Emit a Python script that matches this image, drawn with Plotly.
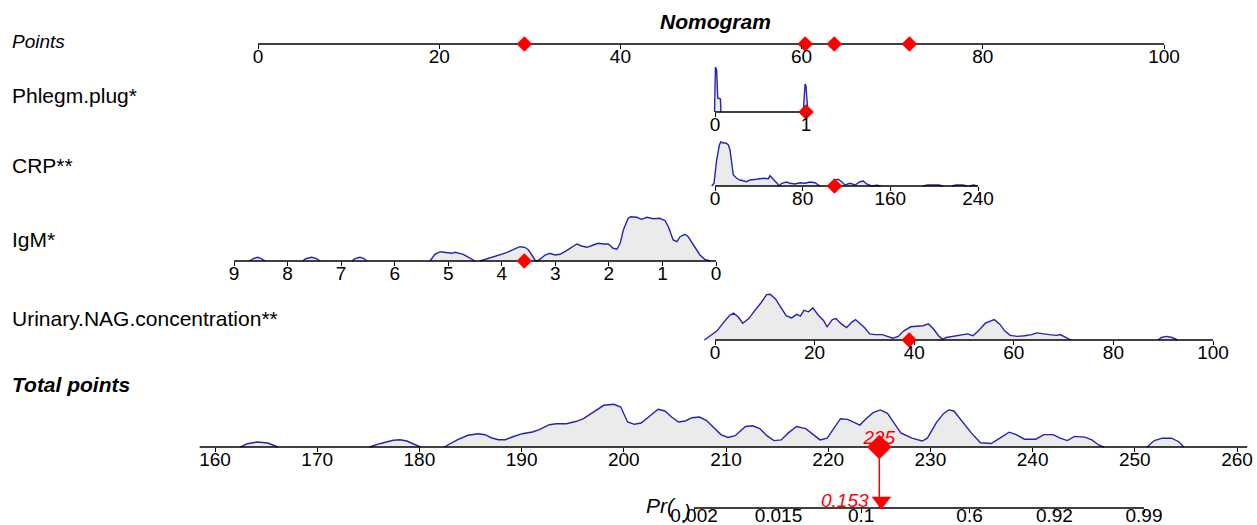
import math
import plotly.graph_objects as go

W, H = 1257, 525

# ---------------- data ----------------
points_ticks = [0, 20, 40, 60, 80, 100]
points_marks = [29.4, 60.4, 63.6, 71.9]          # points of the example patient

phlegm_ticks = [0, 1]
phlegm_value = 1
phlegm_x = [-0.005, 0.0, 0.005, 0.018, 0.022, 0.03, 0.06, 0.065, None,
            0.97, 0.98, 0.99, 1.0, 1.01, 1.02]
phlegm_d = [0, 44, 45, 42, 14, 14, 13, 0, None,
            0, 20, 28, 26, 16, 0]

crp_ticks = [0, 80, 160, 240]
crp_value = 109
crp_x = [-3.0, -0.9, 1.5, 4.0, 5.2, 7.6, 10.0, 12.2, 13.7, 15.2, 16.7, 19.8, 22.8, 28.9, 31.9,
         38.0, 44.1, 48.7, 50.2, 53.2, 56.3, 58.7, 60.8, 65.4, 68.4, 73.0, 77.6, 82.1, 86.7,
         91.3, 95.8, None,
         106.5, 109.5, 112.5, 115.6, 118.6, 123.2, 127.8, 132.3, 135.3, 138.4, 143.0, 147.6, 151.2, None,
         190, 194, 204, 208, None, 216, 220, 226, 230, None, 232, 236, 239]
crp_d = [0, 2.7, 26, 41, 44, 43, 43, 41, 36, 23, 11, 7.7, 6, 4.3, 6,
         6.7, 7.7, 7.3, 10.3, 6.7, 2.7, 0.3, 2.7, 4, 2.7, 2, 3.3, 2.7, 4,
         3.3, 0, None,
         0, 6, 6.7, 4.3, 1, 2.7, 1, 4.3, 5, 2, 0, 0.7, 0, None,
         0, 1, 1, 0, None, 0, 1, 1, 0, None, 0, 1, 0]

igm_ticks = [9, 8, 7, 6, 5, 4, 3, 2, 1, 0]
igm_value = 3.58
igm_x = [8.71, 8.64, 8.56, 8.50, 8.42, None,
         7.72, 7.66, 7.55, 7.46, 7.39, None,
         6.80, 6.74, 6.65, 6.58, 6.52, None,
         5.34, 5.25, 5.15, 5.03, 4.93, 4.87, 4.78, 4.72, 4.62, 4.56, 4.50, None,
         4.41, 4.28, 4.16, 4.03, 3.91, 3.78, 3.66, 3.57, 3.50, 3.44, 3.38, 3.35,
         3.29, 3.19, 3.10, 3.01, 2.91, 2.79, 2.66, 2.60, 2.51, 2.41, 2.29, 2.20, 2.10, 2.01,
         1.92, 1.85, 1.79, 1.73, 1.64, 1.59, 1.48, 1.39, 1.29, 1.17, 1.05, 0.95, 0.89, 0.80,
         0.73, 0.67, 0.58, 0.52, 0.42, 0.30, 0.21, 0.11]
igm_d = [0, 2.3, 3.7, 2.7, 0, None,
         0, 2.3, 3.7, 2.3, 0, None,
         0, 2.3, 3.7, 2.7, 0, None,
         0, 6.7, 9.3, 8.3, 7.7, 8.7, 7.7, 6.7, 3.7, 1.7, 0, None,
         0, 2.3, 4.3, 6, 8.3, 11.7, 14.3, 13.7, 11, 6, 1, 0,
         1.7, 6, 7.7, 6, 6.7, 10.3, 14.3, 17, 15, 13.7, 16, 17.7, 17, 17,
         12.7, 11.7, 17.7, 31, 42.7, 44.3, 43.7, 41.7, 43.7, 42.3, 42.7, 40.3, 34.3, 21,
         19.3, 24.3, 26.7, 24.3, 16, 6, 1.7, 0]

nag_ticks = [0, 20, 40, 60, 80, 100]
nag_value = 39
nag_x = [-2.14, -1.07, 0.36, 1.79, 2.86, 3.71, 4.64, 5.57, 6.79, 7.86, 9.29, 10.36, 11.07, 12.14,
         13.21, 14.29, 15.36, 16.43, 17.14, 17.86, 18.79, 19.64, 20.71, 21.79, 22.5, 23.57, 24.29,
         25.36, 26.43, 27.5, 28.21, 29.29, 30.0, 31.07, 32.14, 33.57, 34.64, 35.71, 36.79, 37.86,
         39.29, 40.71, 41.79, 42.86, 43.93, 45.0, 45.71, 46.43, 47.86, 49.29, 50.71, 51.79, 52.86,
         54.29, 56.07, 57.14, 58.21, 59.29, 60.71, 62.14, 63.57, 64.64, 65.71, 67.14, 68.57, 69.29,
         70.36, 71.43, None, 88.93, 89.64, 90.71, 91.79, 92.86]
nag_d = [0, 3.6, 8.9, 17.9, 24.3, 26.8, 23.2, 16.8, 21.4, 28.6, 37.5, 45.4, 45.7, 41.1,
         32.1, 24.3, 22.1, 25.7, 23.9, 29.6, 28.2, 32.1, 25, 19.6, 13.2, 20.4, 21.4,
         16.1, 12.5, 17.9, 20.4, 16.1, 12.5, 6.1, 5.4, 5.4, 3.6, 1.8, 3.6, 8.9,
         13.2, 13.6, 14.3, 16.1, 10.7, 3.6, 0.7, 2.5, 3.6, 5.4, 6.1, 4.3, 8.9,
         16.8, 20.4, 16.1, 8.9, 4.6, 3.6, 4.3, 5.4, 7.1, 6.1, 5.4, 4.6, 5.4,
         2.9, 0, None, 0, 2.5, 3.6, 2.5, 0]

tp_ticks = [160, 170, 180, 190, 200, 210, 220, 230, 240, 250, 260]
tp_line = [158.5, 261]
total_points = 225
tp_x = [162.49, 163.16, 164.15, 165.15, 166.15, None,
        175.12, 176.11, 177.44, 178.11, 178.77, 179.77, 180.10, None,
        182.43, 183.09, 183.75, 184.75, 185.75, 186.41, 187.08, 187.74, 188.41, 189.07, 190.07,
        191.06, 191.73, 192.72, 193.39, 194.39, 195.38, 196.05, 197.04, 198.04, 199.04, 199.70,
        200.37, 201.03, 201.69, 202.69, 203.36, 204.02, 204.68, 205.35, 206.01, 206.68, 207.4,
        208.1, 208.8, 209.5, 210.2, 210.9, 211.9, 212.6, 213.3, 214.0, 214.7, 215.4, 216.1,
        216.9, 217.8, 218.5, 219.2, 219.9, 220.6, 221.2, 221.9, 222.6, 223.1, 223.7, 224.4,
        225.1, 225.8, 226.4, 227.1, 228.2, 229.2, 229.7, 230.6, 231.3, 231.8, 232.3, 233.2,
        234.0, 234.9, 235.95, 236.8, 237.7, 238.4, 239.2, 240.3, 241.1, 242.0, 242.7, 243.4,
        244.1, 245.1, 245.8, 246.5, 247.0, None,
        251.2, 251.9, 252.7, 253.6, 254.3, 254.8]
tp_d = [0, 3.3, 5, 4, 0, None,
        0, 3.3, 6.7, 7.3, 6, 1.7, 0, None,
        0, 4, 7.3, 11.7, 13.3, 12.3, 9, 7.3, 7.3, 10, 13.3,
        15, 17.3, 22.3, 23.3, 23.3, 25.7, 28.3, 35, 41.7, 42.7, 40,
        25, 22.7, 24, 31.7, 37.7, 36, 30, 25, 26, 29.3, 30,
        26.5, 19.4, 12.4, 9.5, 11.3, 20.5, 21.2, 18.4, 11.3, 6.4, 7.1, 14.1,
        20.5, 18.4, 12.4, 7.1, 8.8, 19.4, 28.3, 27.6, 24, 21.9, 28.3, 34.3,
        37.1, 33.6, 24.7, 14.1, 8.8, 6, 8.8, 24.7, 33.6, 37.1, 36, 24.7,
        14.1, 4.2, 3.5, 8.8, 14.8, 12.4, 7.8, 7.8, 12.4, 12.4, 8.8, 6.4,
        10.6, 9.9, 7.1, 1.8, 0, None,
        0, 6.4, 8.8, 8.8, 5.3, 0]

pr_ticks = [0.002, 0.015, 0.1, 0.6, 0.92, 0.99]
pr_labels = ["0.002", "0.015", "0.1", "0.6", "0.92", "0.99"]
pr_value = 0.153

row_labels = ["Phlegm.plug*", "CRP**", "IgM*", "Urinary.NAG.concentration**"]


def logit(p):
    return math.log(p / (1 - p))


# ---------------- style ----------------
FONT = "Liberation Sans, Arial, sans-serif"
TICKFONT = dict(family=FONT, size=19, color="black")
BLUE = "#2424b4"
GREY = "#ebebeb"
RED = "#ff0000"
PAD = 22

layout = dict(
    width=W, height=H,
    margin=dict(l=0, r=0, t=0, b=0, autoexpand=False),
    paper_bgcolor="white", plot_bgcolor="rgba(0,0,0,0)",
    showlegend=False, font=dict(family=FONT, color="black"),
)
traces = []


def names(k):
    s = "" if k == 1 else str(k)
    return "xaxis" + s, "x" + s, "yaxis" + s, "y" + s


def make_row(k, base, px, rng, tickvals, ticktext=None, span=55, standoff=-9):
    xk, xr, yk, yr = names(k)
    s = (rng[1] - rng[0]) / (px[1] - px[0])
    pl = min(PAD, px[0] - 1)
    pr = min(PAD, W - px[1] - 1)
    layout[xk] = dict(domain=[(px[0] - pl) / W, (px[1] + pr) / W],
                      range=[rng[0] - pl * s, rng[1] + pr * s],
                      anchor="free", position=1 - base / H,
                      showline=False, showgrid=False, zeroline=False,
                      ticks="outside", ticklen=4, tickwidth=1, tickcolor="black",
                      ticklabelstandoff=standoff,
                      tickmode="array", tickvals=tickvals,
                      ticktext=ticktext if ticktext else [str(v) for v in tickvals],
                      tickfont=TICKFONT, fixedrange=True)
    layout[yk] = dict(domain=[1 - (base + 4) / H, min(1.0, 1 - (base - span) / H)],
                      range=[-4, span], visible=False, anchor="free",
                      position=0, fixedrange=True)
    return xr, yr


def density(xr, yr, xs, ds):
    traces.append(go.Scatter(x=xs, y=ds, xaxis=xr, yaxis=yr, mode="lines",
                             line=dict(color=BLUE, width=1.4), fill="tozeroy",
                             fillcolor=GREY, hoverinfo="skip", connectgaps=False))


def axis_line(xr, yr, ends):
    traces.append(go.Scatter(x=list(ends), y=[0, 0], xaxis=xr, yaxis=yr, mode="lines",
                             line=dict(color="black", width=1.5), hoverinfo="skip"))


def marks(xr, yr, xs, size=12, symbol="diamond"):
    traces.append(go.Scatter(x=xs, y=[0] * len(xs), xaxis=xr, yaxis=yr, mode="markers",
                             marker=dict(color=RED, size=size, symbol=symbol,
                                         line=dict(width=0)),
                             cliponaxis=False, hoverinfo="skip"))


# Points
xr, yr = make_row(1, 44, (258, 1164), (0, 100), points_ticks, span=30)
axis_line(xr, yr, (points_ticks[0], points_ticks[-1]))
marks(xr, yr, points_marks)

# Phlegm plug
xr, yr = make_row(2, 112, (715, 806), (0, 1), phlegm_ticks)
density(xr, yr, phlegm_x, phlegm_d)
axis_line(xr, yr, (phlegm_ticks[0], phlegm_ticks[-1]))
marks(xr, yr, [phlegm_value])

# CRP
xr, yr = make_row(3, 186, (715, 978), (0, 240), crp_ticks)
density(xr, yr, crp_x, crp_d)
axis_line(xr, yr, (crp_ticks[0], crp_ticks[-1]))
marks(xr, yr, [crp_value])

# IgM (reversed)
xr, yr = make_row(4, 261, (234, 716), (9, 0), igm_ticks)
density(xr, yr, igm_x, igm_d)
axis_line(xr, yr, (igm_ticks[0], igm_ticks[-1]))
marks(xr, yr, [igm_value])

# Urinary NAG
xr, yr = make_row(5, 340, (715, 1213), (0, 100), nag_ticks)
density(xr, yr, nag_x, nag_d)
axis_line(xr, yr, (nag_ticks[0], nag_ticks[-1]))
marks(xr, yr, [nag_value])

# Total points
tpx, tpy = make_row(6, 447, (215, 1237), (160, 260), tp_ticks)
density(tpx, tpy, tp_x, tp_d)
axis_line(tpx, tpy, tp_line)

# Probability axis (logit scale)
PR_BASE = 508
pr_vals = [logit(p) for p in pr_ticks]
prx, pry = make_row(7, PR_BASE, (694, 1144), (pr_vals[0], pr_vals[-1]), pr_vals, pr_labels,
                    span=40, standoff=-14)
axis_line(prx, pry, (pr_vals[0], pr_vals[-1]))

# link line from total points to probability
layout["yaxis8"] = dict(domain=[1 - PR_BASE / H, 1 - 447 / H], range=[0, 1], visible=False,
                        anchor="free", position=0, fixedrange=True)
traces.append(go.Scatter(x=[total_points, total_points], y=[1, 0], xaxis=tpx, yaxis="y8",
                         mode="lines", line=dict(color=RED, width=1.5), hoverinfo="skip"))
marks(tpx, tpy, [total_points], size=19)
traces.append(go.Scatter(x=[total_points], y=[8], xaxis=tpx, yaxis=tpy, mode="text",
                         text=[f"<i>{total_points}</i>"], textposition="middle center",
                         textfont=dict(family=FONT, size=19, color=RED),
                         cliponaxis=False, hoverinfo="skip"))
traces.append(go.Scatter(x=[logit(pr_value)], y=[7], xaxis=prx, yaxis=pry, mode="markers",
                         marker=dict(color=RED, size=17, symbol="triangle-down",
                                     line=dict(width=0)),
                         cliponaxis=False, hoverinfo="skip"))

annotations = [
    dict(x=logit(pr_value), y=8, xref=prx, yref=pry, text=f"<i>{pr_value}</i>",
         showarrow=False, xanchor="right", yanchor="middle", xshift=-10,
         font=dict(family=FONT, size=19, color=RED)),
    dict(x=715 / W, y=1 - 22 / H, xref="paper", yref="paper", text="<b><i>Nomogram</i></b>",
         showarrow=False, xanchor="center", yanchor="middle",
         font=dict(family=FONT, size=21, color="black")),
    dict(x=10 / W, y=1 - 42 / H, xref="paper", yref="paper", text="<i>Points</i>",
         showarrow=False, xanchor="left", yanchor="middle",
         font=dict(family=FONT, size=19, color="black")),
    dict(x=10 / W, y=1 - 384 / H, xref="paper", yref="paper", text="<b><i>Total points</i></b>",
         showarrow=False, xanchor="left", yanchor="middle",
         font=dict(family=FONT, size=21, color="black")),
    dict(x=644 / W, y=1 - 505 / H, xref="paper", yref="paper", text="<i>Pr(</i>",
         showarrow=False, xanchor="left", yanchor="middle",
         font=dict(family=FONT, size=21, color="black")),
    dict(x=680 / W, y=1 - 512 / H, xref="paper", yref="paper", text="<i>)</i>",
         showarrow=False, xanchor="left", yanchor="middle",
         font=dict(family=FONT, size=20, color="black")),
]
for lab, ypx in zip(row_labels, [95, 165, 240, 318]):
    annotations.append(dict(x=10 / W, y=1 - ypx / H, xref="paper", yref="paper", text=lab,
                            showarrow=False, xanchor="left", yanchor="middle",
                            font=dict(family=FONT, size=21, color="black")))
layout["annotations"] = annotations

fig = go.Figure(data=traces, layout=layout)
fig.write_html("out.html", config={"displayModeBar": False},
               post_script="document.body.style.margin='0';document.body.style.overflow='hidden';")
